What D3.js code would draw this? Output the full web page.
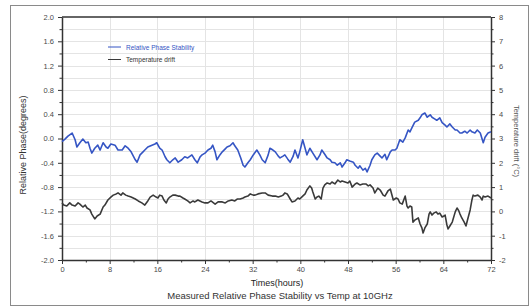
<!DOCTYPE html>
<html>
<head>
<meta charset="utf-8">
<script src="https://cdn.jsdelivr.net/npm/d3@7"></script>
<style>
  body { margin: 0; background: #fff; }
  text { font-family: "Liberation Sans", Arial, sans-serif; }
</style>
</head>
<body>
<div id="svg-container"></div>
<script>
// ------------------------------------------------------------ data
// phase stability (degrees), hours
const phaseHours = [0,0.5,1.0,1.7,2.2,2.5,3.0,3.5,4.0,4.4,4.7,5.0,5.5,6.0,6.4,6.9,7.4,7.7,8.2,8.9,9.4,10.1,10.6,11.1,11.6,12.3,12.6,13.1,13.6,13.9,14.4,15.1,15.6,15.9,16.4,16.8,17.3,17.6,18.1,18.6,19.0,19.5,20.1,20.6,21.1,21.8,22.3,22.7,23.2,23.5,24.0,24.5,25.0,25.3,25.7,26.0,26.5,26.9,27.4,27.7,28.2,28.7,29.0,29.5,30.0,30.4,30.7,31.2,31.6,32.1,32.7,33.2,33.6,34.1,34.6,34.9,35.4,35.8,36.3,36.6,37.1,37.4,37.9,38.3,38.8,39.1,39.6,39.9,40.4,40.8,41.1,41.6,42.1,42.8,43.3,43.6,44.1,44.5,45.0,45.3,45.8,46.2,46.7,47.0,47.5,47.8,48.3,48.9,49.2,49.7,50.0,50.5,50.9,51.2,51.7,52.0,52.5,52.9,53.4,53.7,54.2,54.5,55.1,55.4,55.9,56.2,56.7,57.2,57.6,58.1,58.4,58.7,59.2,59.8,60.1,60.4,60.9,61.3,61.8,62.1,62.6,62.9,63.4,63.8,64.3,64.6,65.1,65.5,66.0,66.3,66.8,67.1,67.6,68.0,68.5,68.8,69.3,69.7,70.2,70.7,71.0,71.5,72.0];
const phaseValues = [-0.05,-0.01,0.04,0.09,-0.02,-0.14,-0.07,-0.01,-0.07,-0.06,-0.16,-0.24,-0.16,-0.11,-0.19,-0.07,-0.14,-0.16,-0.09,-0.11,-0.19,-0.19,-0.12,-0.16,-0.22,-0.35,-0.39,-0.27,-0.22,-0.19,-0.14,-0.11,-0.09,-0.07,-0.16,-0.19,-0.30,-0.35,-0.40,-0.35,-0.32,-0.39,-0.35,-0.30,-0.32,-0.27,-0.35,-0.40,-0.30,-0.27,-0.24,-0.19,-0.16,-0.11,-0.22,-0.35,-0.27,-0.22,-0.17,-0.14,-0.12,-0.07,-0.12,-0.19,-0.32,-0.44,-0.47,-0.40,-0.35,-0.27,-0.19,-0.27,-0.35,-0.40,-0.27,-0.16,-0.19,-0.22,-0.29,-0.32,-0.29,-0.27,-0.34,-0.39,-0.29,-0.19,-0.32,-0.22,-0.02,-0.16,-0.27,-0.16,-0.24,-0.35,-0.27,-0.19,-0.26,-0.32,-0.35,-0.39,-0.40,-0.44,-0.40,-0.47,-0.40,-0.35,-0.37,-0.39,-0.44,-0.49,-0.45,-0.52,-0.49,-0.55,-0.44,-0.35,-0.27,-0.24,-0.29,-0.32,-0.26,-0.35,-0.22,-0.19,-0.19,-0.16,-0.02,-0.06,0.01,0.14,0.11,0.17,0.27,0.30,0.34,0.39,0.42,0.35,0.39,0.35,0.32,0.30,0.34,0.26,0.22,0.19,0.24,0.19,0.14,0.14,0.09,0.09,0.12,0.09,0.14,0.11,0.09,0.14,0.09,-0.07,0.02,0.09,0.11];

// temperature drift (°C), hours
const tempHours = [0,0.3,0.8,1.3,1.7,2.2,2.7,3.0,3.5,3.9,4.2,4.7,5.0,5.5,5.9,6.4,6.9,7.2,7.7,8.2,8.6,9.1,9.4,9.9,10.2,10.7,11.1,11.6,12.3,12.8,13.4,13.9,14.4,14.8,15.3,15.8,16.1,16.4,16.8,17.1,17.5,17.8,18.1,18.6,19.0,19.5,19.8,20.3,20.6,21.1,21.5,22.0,22.3,22.8,23.5,24.0,24.5,25.0,25.7,26.2,26.9,27.4,27.9,28.5,29.0,29.4,29.9,30.4,30.7,31.2,31.6,32.1,32.4,32.9,33.6,34.1,34.6,35.3,35.8,36.3,36.8,37.1,37.4,37.8,38.3,38.6,39.1,39.6,39.9,40.4,40.8,41.1,41.6,41.9,42.1,42.5,42.8,43.1,43.5,43.8,44.1,44.5,45.0,45.3,45.8,46.3,46.7,47.0,47.5,48.0,48.3,48.7,49.2,49.5,50.0,50.5,51.0,51.4,51.7,52.2,52.5,53.0,53.4,53.9,54.2,54.7,55.1,55.6,56.1,56.4,56.7,57.1,57.6,57.9,58.1,58.4,58.7,58.9,59.2,59.8,60.1,60.4,60.6,60.9,61.3,61.6,61.8,62.1,62.4,62.8,63.1,63.4,63.8,64.1,64.3,64.6,64.8,65.1,65.5,66.0,66.3,66.6,66.8,67.1,67.5,67.8,68.1,68.5,68.8,69.0,69.3,69.8,70.2,70.5,70.7,71.0,71.5,72.0];
const tempValues = [0.35,0.26,0.22,0.35,0.26,0.22,0.35,0.30,0.18,0.26,0.14,0.06,-0.11,-0.31,-0.19,-0.11,0.18,0.26,0.47,0.59,0.67,0.72,0.76,0.67,0.76,0.67,0.63,0.59,0.51,0.43,0.35,0.26,0.43,0.59,0.67,0.59,0.55,0.67,0.63,0.47,0.35,0.51,0.59,0.67,0.67,0.63,0.63,0.55,0.51,0.43,0.35,0.43,0.39,0.47,0.39,0.35,0.35,0.43,0.30,0.39,0.39,0.35,0.43,0.47,0.43,0.51,0.51,0.55,0.59,0.63,0.72,0.67,0.67,0.72,0.76,0.76,0.67,0.63,0.63,0.59,0.63,0.67,0.76,0.72,0.51,0.39,0.43,0.55,0.51,0.63,0.72,0.88,1.05,0.96,0.80,0.51,0.59,0.63,0.51,0.96,1.09,1.17,1.13,1.21,1.13,1.29,1.21,1.25,1.21,1.17,1.25,1.00,1.13,1.17,1.09,1.13,1.13,1.05,1.09,0.96,0.76,0.96,0.88,0.67,0.63,0.84,0.92,0.47,0.55,0.51,0.35,0.30,0.63,0.22,0.14,0.22,0.18,-0.44,-0.36,-0.27,-0.52,-0.68,-0.89,-0.68,-0.52,-0.11,-0.02,-0.15,-0.07,-0.02,-0.11,-0.07,-0.23,-0.19,-0.15,-0.56,-0.72,-0.60,-0.44,-0.02,0.14,0.02,-0.11,-0.27,-0.44,-0.60,-0.31,0.06,0.47,0.67,0.63,0.67,0.59,0.47,0.63,0.59,0.63,0.55];

const xTicks = [0, 8, 16, 24, 32, 40, 48, 56, 64, 72];
const leftTicks = [2.0, 1.6, 1.2, 0.8, 0.4, 0.0, -0.4, -0.8, -1.2, -1.6, -2.0];
const rightTicks = [8, 7, 6, 5, 4, 3, 2, 1, 0, -1, -2];
const seriesNames = ["Relative Phase Stability", "Temperature drift"];

// ------------------------------------------------------------ init
const width = 531, height = 307;
const margin = { top: 17, right: 40, bottom: 47, left: 62 };
const blue = "#3555c4", dark = "#3a3a3a";

const svg = d3.select("#svg-container").append("svg")
  .attr("width", width).attr("height", height);

svg.append("rect")
  .attr("x", 10.5).attr("y", 5.5).attr("width", 518).attr("height", 300)
  .attr("fill", "#fff").attr("stroke", "#8a8a8a").attr("stroke-width", 1);

const x = d3.scaleLinear().domain([0, 72]).range([margin.left, width - margin.right]);
const yL = d3.scaleLinear().domain([-2, 2]).range([height - margin.bottom, margin.top]);
const yR = d3.scaleLinear().domain([-2, 8]).range([height - margin.bottom, margin.top]);

// grid
const grid = svg.append("g").attr("stroke", "#e4e4e4").attr("stroke-width", 1);
grid.selectAll("line.h")
  .data(d3.range(-1.8, 2.0, 0.2))
  .join("line")
  .attr("x1", margin.left).attr("x2", width - margin.right)
  .attr("y1", (d) => Math.round(yL(d)) + 0.5).attr("y2", (d) => Math.round(yL(d)) + 0.5);
grid.selectAll("line.v")
  .data(xTicks.slice(1, -1))
  .join("line")
  .attr("y1", margin.top).attr("y2", height - margin.bottom)
  .attr("x1", (d) => Math.round(x(d)) + 0.5).attr("x2", (d) => Math.round(x(d)) + 0.5);

// axes
function styleAxis(g) {
  g.select(".domain").attr("stroke", "#333").attr("stroke-width", 1.5);
  g.selectAll(".tick line").attr("stroke", "#333").attr("stroke-width", 1);
  g.selectAll(".tick text").attr("fill", "#4a4a4a").style("font-size", "7.5px");
}

// minor ticks
svg.append("g")
  .attr("transform", `translate(0,${height - margin.bottom})`)
  .call(d3.axisBottom(x).tickValues(d3.range(4, 72, 8)).tickSize(2.5).tickFormat("").tickSizeOuter(0))
  .call((g) => g.select(".domain").remove())
  .call((g) => g.selectAll("line").attr("stroke", "#333"));
svg.append("g")
  .attr("transform", `translate(${margin.left},0)`)
  .call(d3.axisLeft(yL).tickValues(d3.range(-1.8, 2, 0.4)).tickSize(2.5).tickFormat("").tickSizeOuter(0))
  .call((g) => g.select(".domain").remove())
  .call((g) => g.selectAll("line").attr("stroke", "#333"));
svg.append("g")
  .attr("transform", `translate(${width - margin.right},0)`)
  .call(d3.axisRight(yR).tickValues(d3.range(-1.5, 8, 1)).tickSize(2.5).tickFormat("").tickSizeOuter(0))
  .call((g) => g.select(".domain").remove())
  .call((g) => g.selectAll("line").attr("stroke", "#333"));

svg.append("g")
  .attr("transform", `translate(0,${height - margin.bottom})`)
  .call(d3.axisBottom(x).tickValues(xTicks).tickSize(4).tickPadding(3).tickSizeOuter(0))
  .call(styleAxis);

svg.append("g")
  .attr("transform", `translate(${margin.left},0)`)
  .call(d3.axisLeft(yL).tickValues(leftTicks).tickSize(4).tickPadding(4).tickSizeOuter(0))
  .call(styleAxis)
  .call((g) => g.selectAll(".tick text").text((d) => d3.format(".1f")(d).replace("−", "-")));

svg.append("g")
  .attr("transform", `translate(${width - margin.right},0)`)
  .call(d3.axisRight(yR).tickValues(rightTicks).tickFormat((d) => String(d)).tickSize(4).tickPadding(4).tickSizeOuter(0))
  .call(styleAxis);

// top frame
svg.append("line")
  .attr("x1", margin.left).attr("x2", width - margin.right)
  .attr("y1", margin.top).attr("y2", margin.top)
  .attr("stroke", "#333").attr("stroke-width", 1.5);

// lines
const phaseData = phaseHours.map((h, i) => ({ h, v: phaseValues[i] }));
const tempData = tempHours.map((h, i) => ({ h, v: tempValues[i] }));

svg.append("path")
  .datum(tempData)
  .attr("fill", "none").attr("stroke", dark).attr("stroke-width", 1.6)
  .attr("stroke-linejoin", "round")
  .attr("d", d3.line().x((d) => x(d.h)).y((d) => yR(d.v)));

svg.append("path")
  .datum(phaseData)
  .attr("fill", "none").attr("stroke", blue).attr("stroke-width", 1.6)
  .attr("stroke-linejoin", "round")
  .attr("d", d3.line().x((d) => x(d.h)).y((d) => yL(d.v)));

// legend
const legend = svg.append("g");
seriesNames.forEach((name, i) => {
  const yy = 47 + i * 12.5;
  legend.append("line")
    .attr("x1", 108).attr("x2", 121).attr("y1", yy).attr("y2", yy)
    .attr("stroke", i === 0 ? blue : dark).attr("stroke-width", 1);
  legend.append("text")
    .attr("x", 126).attr("y", yy + 2.5)
    .attr("fill", i === 0 ? blue : "#333")
    .style("font-size", "6.5px")
    .text(name);
});

// labels
svg.append("text")
  .attr("transform", "translate(26,145) rotate(-90)")
  .attr("text-anchor", "middle").attr("fill", "#333")
  .style("font-size", "9px")
  .text("Relative Phase(degrees)");

svg.append("text")
  .attr("transform", "translate(514,141) rotate(90)")
  .attr("text-anchor", "middle").attr("fill", "#555")
  .style("font-size", "7.5px")
  .text("Temperature drift (°C)");

svg.append("text")
  .attr("x", 277).attr("y", 286)
  .attr("text-anchor", "middle").attr("fill", "#222")
  .style("font-size", "9px")
  .text("Times(hours)");

svg.append("text")
  .attr("x", 280).attr("y", 299)
  .attr("text-anchor", "middle").attr("fill", "#333")
  .style("font-size", "9.5px")
  .text("Measured Relative Phase Stability vs Temp at 10GHz");
</script>
</body>
</html>
